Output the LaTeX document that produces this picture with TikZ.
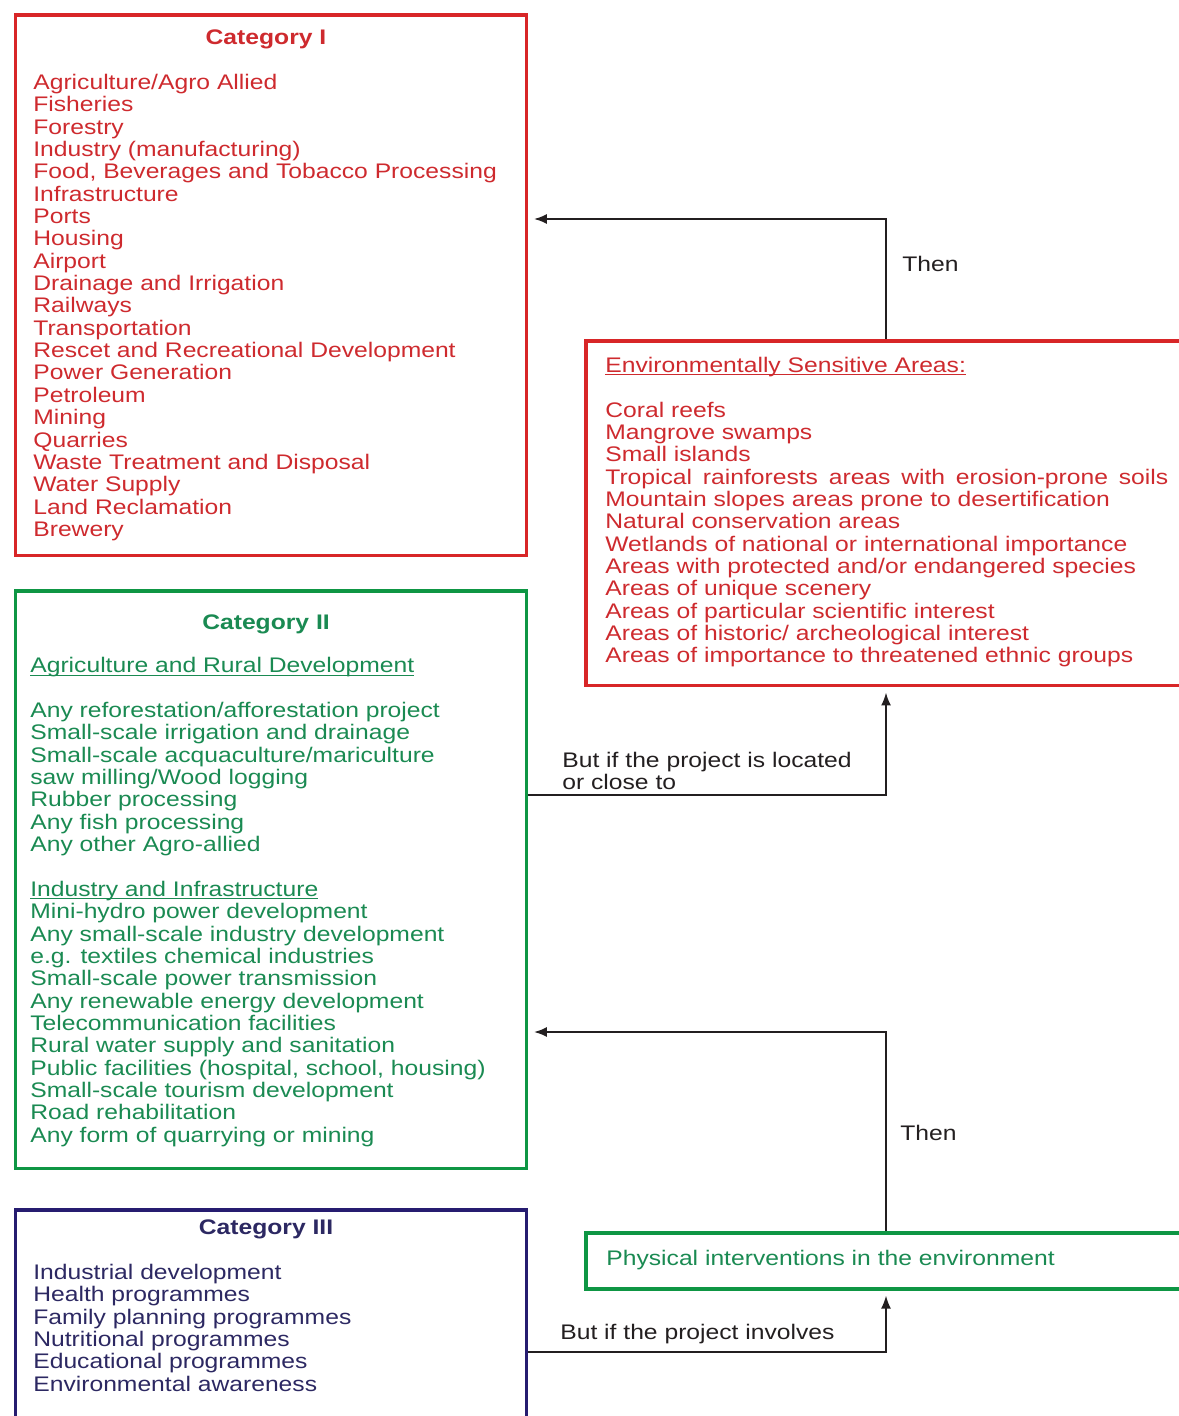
\documentclass[tikz,border=0pt]{standalone}
\usepackage{fontspec}
\setmainfont{Liberation Sans}[FakeStretch=1.17]
\usetikzlibrary{arrows.meta}
\definecolor{boxred}{RGB}{216,38,40}
\definecolor{txtred}{RGB}{206,42,46}
\definecolor{boxgreen}{RGB}{14,150,68}
\definecolor{txtgreen}{RGB}{26,138,82}
\definecolor{boxnavy}{RGB}{38,28,112}
\definecolor{txtnavy}{RGB}{44,40,98}
\definecolor{darkgray}{RGB}{35,31,32}
\newcommand{\hdr}[1]{\setbox0\hbox{#1}\rlap{\rule[-1.5pt]{\wd0}{0.55pt}}\box0}
\tikzset{
  catbox/.style={line width=2pt,minimum width=10.23cm,inner sep=0pt,anchor=north west},
  widebox/.style={line width=2pt,minimum width=12.32cm,inner sep=0pt,anchor=north west},
  txt/.style={font=\fontsize{12pt}{12.72pt}\selectfont,align=left,inner sep=0pt,anchor=north west},
  cattitle/.style={font=\fontsize{12pt}{12.72pt}\selectfont\bfseries,inner sep=0pt,anchor=base},
  lbl/.style={txt,text=darkgray},
  arr/.style={-{Latex[length=2.6mm,width=2mm]},draw=darkgray,line width=1.1pt}
}

\begin{document}
\begin{tikzpicture}[x=0.02cm,y=-0.02cm]
  \useasboundingbox (0,0) rectangle (1178,1416);

  \node[catbox,draw=boxred,minimum height=10.81cm] (cat1) at (13.5,13.5) {};
  \node[cattitle,text=txtred] (cat1title) at (266,44.3) {Category I};
  \node[txt,text=txtred] (cat1list) at (33,73.8) {Agriculture/Agro Allied\\ Fisheries\\ Forestry\\
    Industry (manufacturing)\\ Food, Beverages and Tobacco Processing\\ Infrastructure\\ Ports\\
    Housing\\ Airport\\ Drainage and Irrigation\\ Railways\\ Transportation\\
    Rescet and Recreational Development\\ Power Generation\\ Petroleum\\ Mining\\ Quarries\\
    Waste Treatment and Disposal\\ Water Supply\\ Land Reclamation\\ Brewery};

  \node[catbox,draw=boxgreen,minimum height=11.56cm] (cat2) at (13.5,589) {};
  \node[cattitle,text=txtgreen] (cat2title) at (266,629) {Category II};
  \node[txt,text=txtgreen] (cat2list) at (30,657.2) {\hdr{Agriculture and Rural Development}\\[12.72pt]
    Any reforestation/afforestation project\\ Small-scale irrigation and drainage\\
    Small-scale acquaculture/mariculture\\ saw milling/Wood logging\\ Rubber processing\\
    Any fish processing\\ Any other Agro-allied\\[12.72pt]
    \hdr{Industry and Infrastructure}\\ Mini-hydro power development\\
    Any small-scale industry development\\ e.g. textiles chemical industries\\
    Small-scale power transmission\\ Any renewable energy development\\
    Telecommunication facilities\\ Rural water supply and sanitation\\
    Public facilities (hospital, school, housing)\\ Small-scale tourism development\\
    Road rehabilitation\\ Any form of quarrying or mining};

  \node[catbox,draw=boxnavy,minimum height=4.6cm] (cat3) at (13.5,1208) {};
  \node[cattitle,text=txtnavy] (cat3title) at (266,1234.3) {Category III};
  \node[txt,text=txtnavy] (cat3list) at (33,1263.8) {Industrial development\\ Health programmes\\
    Family planning programmes\\ Nutritional programmes\\ Educational programmes\\
    Environmental awareness};

  \node[widebox,draw=boxred,minimum height=6.9cm] (esa) at (584,339) {};
  \node[txt,text=txtred] (esalist) at (605,356.8) {\hdr{Environmentally Sensitive Areas:}\\[12.72pt]
    Coral reefs\\ Mangrove swamps\\ Small islands\\
    \makebox[11.26cm][s]{Tropical rainforests areas with erosion-prone soils}\\
    Mountain slopes areas prone to desertification\\ Natural conservation areas\\
    Wetlands of national or international importance\\
    Areas with protected and/or endangered species\\ Areas of unique scenery\\
    Areas of particular scientific interest\\ Areas of historic/ archeological interest\\
    Areas of importance to threatened ethnic groups};

  \node[widebox,draw=boxgreen,minimum height=1.12cm] (phys) at (584,1231) {};
  \node[txt,text=txtgreen,anchor=base west] (physlabel) at (606,1265) {Physical interventions in the environment};

  \coordinate (j1) at (886,219);
  \coordinate (j2) at (886,795);
  \coordinate (j3) at (886,1032);
  \coordinate (j4) at (886,1352);

  \draw[arr,shorten >=0.11cm] (esa.north -| j1) |- (cat1.east |- j1);
  \draw[arr,shorten >=0.1cm] (cat2.east |- j2) -| (esa.south -| j2);
  \draw[arr,shorten >=0.11cm] (phys.north -| j3) |- (cat2.east |- j3);
  \draw[arr,shorten >=0.1cm] (cat3.east |- j4) -| (phys.south -| j4);

  \node[lbl,anchor=base west] (then1) at (902,271.7) {Then};
  \node[lbl] (located) at (562,751.8) {But if the project is located\\ or close to};
  \node[lbl,anchor=base west] (then2) at (900,1140.7) {Then};
  \node[lbl,anchor=base west] (involves) at (560,1339.3) {But if the project involves};
\end{tikzpicture}
\end{document}
